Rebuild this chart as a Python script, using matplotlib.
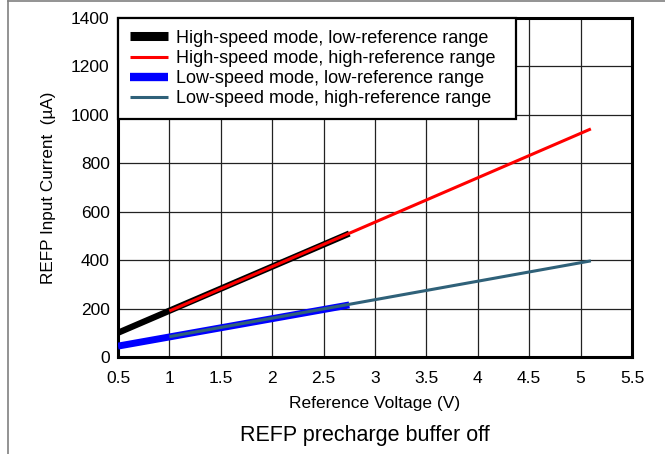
import matplotlib.pyplot as plt
from matplotlib.lines import Line2D
import numpy as np

plt.rcParams['font.family'] = ['Liberation Sans', 'DejaVu Sans']

# End points of each current curve: reference voltage (V) vs REFP input current (uA)
hs_low_v = [0.5, 2.75]
hs_low_i = [100, 510]
hs_high_v = [1.0, 5.1]
hs_high_i = [190, 942]
ls_low_v = [0.5, 2.75]
ls_low_i = [45, 215]
ls_high_v = [1.0, 5.1]
ls_high_i = [84, 397]

labels = ['High-speed mode, low-reference range',
          'High-speed mode, high-reference range',
          'Low-speed mode, low-reference range',
          'Low-speed mode, high-reference range']
colors = ['black', '#ff0000', '#0000ff', '#2f6179']

fig = plt.figure(figsize=(6.65, 4.54), dpi=100)
ax = fig.add_axes([118 / 665, 1 - 357 / 454, (632 - 118) / 665, (357 - 18) / 454])

ax.plot(hs_low_v, hs_low_i, color=colors[0], lw=4.5, solid_capstyle='butt', zorder=3)
ax.plot(hs_high_v, hs_high_i, color=colors[1], lw=2.2, solid_capstyle='butt', zorder=4)
ax.plot(ls_low_v, ls_low_i, color=colors[2], lw=5, solid_capstyle='butt', zorder=3)
ax.plot(ls_high_v, ls_high_i, color=colors[3], lw=2.2, solid_capstyle='butt', zorder=4)

ax.set_xlim(0.5, 5.5)
ax.set_ylim(0, 1400)
ax.set_xticks(np.arange(0.5, 5.51, 0.5))
ax.set_xticklabels(['0.5', '1', '1.5', '2', '2.5', '3', '3.5', '4', '4.5', '5', '5.5'])
ax.set_yticks(np.arange(0, 1401, 200))
ax.tick_params(length=0, labelsize=12.5)
ax.tick_params(axis='x', pad=10)
ax.tick_params(axis='y', pad=6)
ax.grid(True, color='#222222', lw=0.9)
ax.set_axisbelow(True)
for s in ax.spines.values():
    s.set_linewidth(2.2)

ax.set_xlabel('Reference Voltage (V)', fontsize=12.5, labelpad=7)
ax.set_ylabel('REFP Input Current  (µA)', fontsize=12.3, labelpad=10.5)

# legend keys: thick bars for the low-reference ranges, thin lines for the high ones
handles = [Line2D([], [], color=c, lw=w, solid_capstyle='butt')
           for c, w in zip(colors, [6.5, 2.2, 6.0, 2.2])]
leg = ax.legend(handles, labels, loc='upper left',
                bbox_to_anchor=(0, 0, (516 - 118) / 514, 1),
                mode='expand', borderaxespad=0,
                fancybox=False, framealpha=1, edgecolor='black', fontsize=13,
                handlelength=2.1, handletextpad=0.45, labelspacing=0.18,
                borderpad=0.65)
leg.get_frame().set_linewidth(1.6)
leg.set_zorder(5)

fig.text(365 / 665, 1 - 436 / 454, 'REFP precharge buffer off', fontsize=15.5,
         ha='center', va='center')

# thin page frame along the top and left edges
fig.add_artist(Line2D([8 / 665, 1], [1 - 1 / 454] * 2, color='#808080', lw=1.2))
fig.add_artist(Line2D([8 / 665] * 2, [0, 1 - 1 / 454], color='#808080', lw=1.2))

fig.savefig('out.png', dpi=100)
